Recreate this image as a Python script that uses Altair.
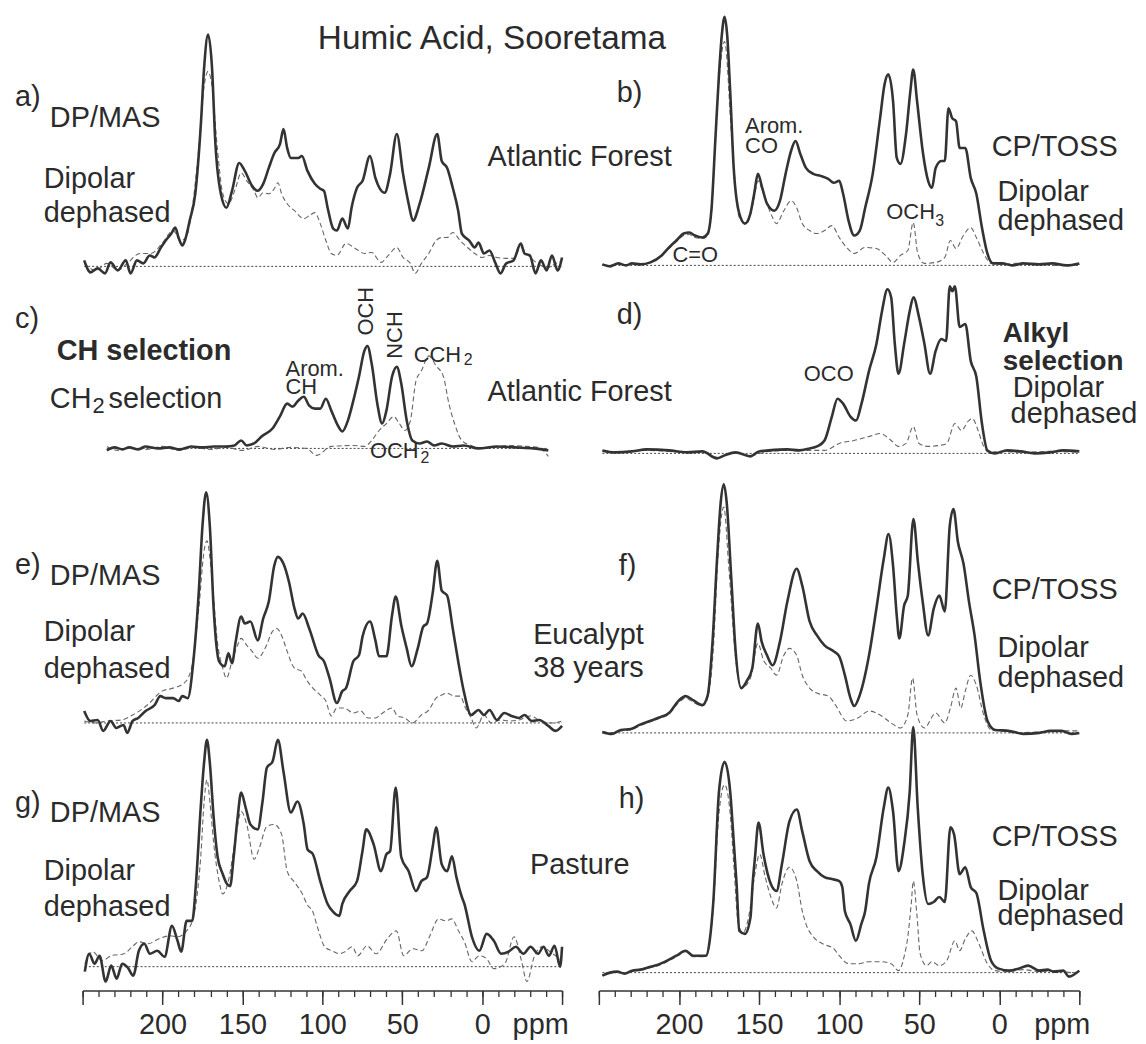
import altair as alt
import pandas as pd

FONT = "Liberation Sans"
TXT = "#2b2b2b"
LINE = "#333333"
DASHC = "#666666"

# ---------------- spectra: (ppm, intensity a.u.) ----------------
a_solid = [(249,6),(245,-6),(240.5,-2),(236,-7),(232.5,4),(228,-4),(223,6),(220,-7),(216,6),(212,3),(208,11),(205,9),(201,19),(198,26),(194.5,33),(192,39),(190,29),(187.5,21),(186,26),(183,46),(179.5,73),(176,143),(174,199),(171.5,233),(169,199),(167,126),(163.5,73),(160,59),(156.5,76),(152,104),(148.5,96),(144,81),(140.5,76),(137,83),(133.5,99),(130,114),(126.5,123),(124.3,138),(122,119),(119.7,109),(115,109),(112.8,111),(109.3,96),(104.7,83),(101.3,78),(99,76),(96.7,59),(93.2,38),(90.9,36),(87.5,48),(84,38),(81.7,59),(78.3,79),(74.8,86),(70.2,111),(66.8,89),(61,74),(57.6,93),(53.4,133),(49.5,93),(46,63),(43.3,46),(39.1,63),(33.4,99),(28.1,133),(25.3,106),(21.9,99),(18.4,79),(15,56),(12.7,33),(8.1,26),(4.6,19),(2.3,24),(-1.1,13),(-4.6,16),(-8.1,4),(-11.5,-7),(-15,3),(-19.6,6),(-24.2,23),(-26.5,13),(-29.9,11),(-33.4,-7),(-36.8,6),(-40.3,-4),(-43.7,11),(-47.2,-4),(-50,9)]
a_dashed = [(249,3),(241.7,-4),(234.8,3),(227.9,-4),(222.1,3),(214.1,13),(207.2,13),(200.3,23),(193.4,36),(188.8,26),(185.3,29),(181.9,53),(177.3,119),(173.8,183),(171.5,196),(169.2,183),(165.7,119),(162.3,73),(158.8,63),(154.2,79),(150.8,94),(147.3,86),(142.7,76),(140.4,69),(137,74),(133.5,73),(130.1,78),(127.8,84),(125.5,73),(122,63),(117.4,56),(111.6,48),(108.2,51),(104.7,54),(101.3,43),(97.8,26),(94.4,13),(90.9,11),(85.2,23),(79.4,18),(73.7,13),(69.1,14),(63.3,4),(58.7,11),(53.4,19),(49.5,9),(44.9,3),(41.9,-7),(38,3),(33.4,13),(28.8,26),(25.3,29),(21.9,29),(18.4,34),(13.8,26),(9.2,19),(4.6,13),(0,9),(-4.6,11),(-9.2,9),(-15,8),(-19.6,8),(-24.2,19),(-27.7,13),(-32.2,6),(-36.8,1),(-41.4,-1),(-46,3),(-50,6)]

b_solid = [(247.8,1),(243,-1),(238,2),(233,0),(229.3,2),(224,1),(217.8,3),(210.8,10),(206.2,18),(201.6,25),(197,32),(193.5,33),(190,30),(185.4,28),(182,32),(179.6,58),(177.3,125),(175,192),(173.2,232),(171.5,250),(169.9,232),(168,175),(165.8,98),(162.3,52),(158.8,42),(155.4,52),(153,72),(150.7,92),(148,78),(145,62),(140.4,55),(136.9,65),(133.4,92),(130,115),(127.2,125),(124.2,112),(120.7,98),(116.1,92),(111.5,90),(106.8,87),(103.3,83),(99.9,85),(97.5,72),(94.1,45),(90.6,30),(87.1,35),(83.7,58),(79,92),(74.4,148),(71.6,182),(69.3,192),(66.3,165),(64,108),(61.7,102),(58.2,132),(55.5,175),(53.7,197),(51.3,165),(47.8,115),(44.4,85),(42,78),(39.7,98),(36.2,105),(34,105),(31.7,158),(29.4,148),(27,145),(24.7,118),(21.2,118),(17.8,88),(14.3,72),(10.8,38),(7.4,12),(3.9,2),(-1.9,2),(-8,0),(-15,2),(-25,1),(-33,2),(-42,0),(-50,2)]
b_dashed = [(247.8,1),(243,0),(238,2),(233,0),(229.3,2),(224,1),(217.8,3),(210.8,10),(206.2,17),(201.6,24),(197,30),(193.5,31),(190,28),(185.4,27),(182,30),(179.6,55),(176.2,158),(171.5,225),(166.9,125),(162.3,48),(157.7,42),(153,68),(150.7,85),(147.2,72),(142.6,52),(139.1,42),(134.5,55),(129.9,65),(126.5,58),(123,42),(118.4,35),(113.8,32),(109.1,35),(104.5,40),(99.9,28),(95.3,18),(90.6,12),(83.7,18),(76.8,17),(71,10),(66.3,3),(61.7,10),(57.1,15),(53.7,43),(50.9,12),(46.7,2),(39.7,3),(34,8),(30.5,25),(27,17),(22.4,30),(17.8,38),(14.3,28),(9.7,12),(5.1,2),(-1.9,1),(-10,2),(-25,1),(-35,0),(-50,1)]

c_solid = [(234.8,-2),(230,1),(225,-1),(220.9,1),(215,-1),(211,2),(202.5,0),(196,1),(189,-1),(182,2),(175,1),(168,2),(160.5,2),(155,3),(150.8,8),(147.3,3),(142.7,5),(138,12),(131.2,20),(126.6,32),(122,45),(118.6,42),(115.1,48),(111.6,52),(108.2,43),(104.7,40),(101.3,40),(97.8,50),(94.4,38),(90.9,25),(87.5,17),(84,28),(80.6,48),(77.1,72),(73.7,98),(71.8,103),(69.1,85),(65.6,45),(62.6,25),(59.9,38),(56.4,72),(53.4,82),(50.6,65),(47.2,28),(43.7,8),(39.1,5),(34.5,7),(30,3),(25.3,5),(18.4,2),(11.5,3),(2.3,0),(-9.2,2),(-20.7,1),(-32.2,0),(-41.4,-2)]
c_dashed = [(234.8,2),(228,-2),(220,1),(210,-1),(200,2),(190,-2),(180,1),(170,-1),(160,1),(150,-2),(140,2),(130,-1),(120,1),(110,0),(103.6,-7),(94.4,2),(80.6,3),(73.7,2),(69.1,8),(64.5,18),(59.9,25),(55.3,32),(51.8,25),(48.3,18),(44.9,28),(41.4,68),(38,78),(33.4,93),(28.8,83),(24.2,72),(20.8,45),(17.3,25),(12.7,8),(6.9,3),(-2.3,0),(-16.1,3),(-27.6,2),(-35,1),(-41.4,-8)]

d_solid = [(247.8,3),(240,1),(229.3,2),(220,4),(206.2,3),(195,1),(185.4,2),(176.2,-5),(171.5,-2),(164.6,1),(155.4,-3),(150,2),(143.8,3),(132.2,4),(125,3),(118.4,5),(113.8,7),(109.1,13),(104.5,37),(101,55),(97.5,50),(92.9,37),(89.4,33),(86,50),(81.3,83),(76.7,110),(73.2,143),(69.8,165),(67.5,157),(65.2,110),(62.9,80),(59.4,110),(55.9,143),(53.6,157),(50.1,137),(46.7,110),(43.2,80),(39.7,103),(36.2,115),(33.2,113),(30.9,168),(29.3,163),(27.7,168),(24.7,127),(21.2,130),(17.8,93),(14.3,77),(10.8,30),(7.4,3),(2.8,0),(-5,3),(-13.4,2),(-22,0),(-31.9,1),(-40,3),(-50,2)]
d_dashed = [(247.8,2),(240,1),(229.3,2),(220,3),(206.2,2),(195,1),(185.4,2),(176.2,-4),(171.5,-2),(164.6,1),(155.4,-2),(143.8,2),(132.2,3),(118.4,3),(109.1,3),(99.9,10),(90.6,13),(81.3,17),(74.4,20),(67.5,13),(62.9,7),(58.2,10),(53.7,27),(50.1,10),(44.4,7),(37.4,8),(32.8,10),(27.7,30),(23.6,23),(19,33),(16.7,35),(13.2,23),(9.7,7),(6.2,1),(0,2),(-13.4,1),(-31.9,2),(-50,1)]

e_solid = [(249,12),(245.2,2),(240.6,3),(237.1,-8),(232.5,2),(229,-5),(224.4,-2),(222.1,-10),(218.7,2),(215.2,5),(210.6,12),(204.9,18),(201.4,27),(198,25),(193.4,25),(189.9,22),(187.6,27),(184.2,25),(180.7,62),(177.3,132),(175,198),(172.7,232),(170.4,198),(168,115),(164.6,62),(161.1,57),(158.8,70),(156.5,60),(154.2,82),(150.8,107),(148.5,100),(145,102),(140.4,83),(137,105),(133.5,122),(130.1,158),(127.8,167),(124.3,160),(120.9,142),(117.4,115),(115.1,105),(112.3,110),(108.2,95),(102.4,68),(99,62),(95.5,45),(90.9,20),(87.5,32),(85.2,35),(80.6,62),(77.1,68),(74.8,87),(70.2,102),(66.8,83),(64.5,67),(59.9,67),(56.4,108),(54.1,127),(50.6,98),(47.2,75),(44.2,57),(40.3,75),(36.8,97),(34.5,100),(31,130),(28.1,163),(25.3,133),(21.9,128),(18.4,95),(15,62),(11.5,32),(6.9,8),(2.3,13),(-1.1,8),(-4.6,13),(-9.2,3),(-13.8,10),(-18.4,7),(-23,5),(-26.5,8),(-31.1,2),(-35.7,3),(-41.4,-3),(-46,-8),(-50,-3)]
e_dashed = [(249,2),(241.7,0),(234.8,2),(225.6,3),(218.7,8),(209.5,18),(200.3,32),(193.4,35),(186.5,40),(181.9,55),(177.3,115),(173.8,175),(172.2,183),(169.2,148),(165.7,82),(162.3,55),(160,45),(156.5,62),(153.1,78),(150.8,85),(147.3,78),(143.9,72),(140.4,65),(135.8,75),(131.2,92),(128.5,95),(125.5,88),(122,72),(117.4,55),(112.8,52),(110.5,45),(105.9,35),(101.3,28),(97.8,22),(94.4,7),(90.9,15),(86.3,15),(80.6,10),(76,12),(71.4,5),(66.8,5),(62.2,10),(56.4,15),(53,7),(48.3,5),(43.7,0),(38,8),(33.4,13),(28.8,25),(25.3,28),(21.9,30),(17.3,27),(13.8,27),(10.4,15),(6.9,5),(3.7,-5),(-1.1,8),(-5.7,0),(-11.5,3),(-17.2,2),(-23,3),(-29.9,7),(-36.8,2),(-43.7,0),(-50,2)]

f_solid = [(247.8,1),(242,-1),(236.3,3),(230,4),(224.7,8),(213.2,15),(206.2,20),(200.4,32),(195.8,37),(191.2,33),(185.4,28),(182,38),(179,92),(176.2,175),(173.9,232),(172,250),(170.2,232),(167.4,158),(164.6,82),(161.1,45),(157.7,52),(154.2,65),(150.7,110),(148.4,92),(145,78),(141.5,68),(136.9,92),(132.3,132),(126.5,165),(123,148),(118.4,112),(113.8,98),(109.1,88),(103.4,82),(99.9,77),(96.4,58),(92.9,35),(90.6,27),(87.1,38),(81.3,78),(76.7,125),(72.1,175),(69.1,200),(66.3,168),(64,118),(62.4,95),(59.4,128),(57.1,138),(53.6,215),(50.8,172),(47.8,132),(44.4,98),(40.9,125),(37.4,138),(34,122),(30.9,208),(28.6,225),(25.8,192),(22.3,170),(18.9,132),(15.4,98),(11.9,52),(7.3,12),(2.6,3),(-6.5,2),(-15,-1),(-25,0),(-32,2),(-38.9,2),(-45,-1),(-50,0)]
f_dashed = [(247.8,1),(242,0),(236.3,2),(230,3),(224.7,7),(213.2,14),(206.2,19),(200.4,30),(195.8,35),(191.2,31),(185.4,27),(182,36),(178.5,85),(175.7,175),(172,227),(168.8,165),(164.6,75),(161.1,45),(155.4,55),(150.7,90),(147.2,73),(142.6,65),(139.1,58),(134.5,78),(131,85),(126.5,78),(123,58),(118.4,45),(113.8,40),(106.8,37),(102.2,28),(95.3,12),(88.3,15),(81.3,22),(74.4,18),(67.5,10),(61.7,5),(57.1,18),(54.1,55),(51.3,18),(46.7,5),(39.7,20),(34,10),(30.5,25),(27,45),(24,25),(21.2,42),(17.8,58),(14.3,48),(9.7,18),(5.1,3),(-1.9,2),(-10,0),(-25,1),(-38,2),(-50,2)]

g_solid = [(248.6,-5),(245.9,13),(242.5,3),(239.4,11),(235.6,-15),(232.1,1),(228.7,-12),(225.2,3),(221.7,-1),(218.3,-9),(214.8,16),(211.4,23),(207.9,13),(203.3,16),(198.7,10),(194.1,41),(190.6,26),(188.3,15),(184.9,46),(181.4,46),(179.1,83),(176.1,160),(174,205),(172.2,228),(170.4,205),(168,150),(165.5,110),(162.3,93),(160,84),(157.7,81),(155.5,110),(153,150),(150.8,175),(148,160),(145,143),(140.4,138),(137.5,165),(134.7,200),(131.2,206),(127.8,228),(124.3,196),(119.7,155),(115.6,166),(111.6,143),(109.3,118),(105.9,113),(101.3,86),(96.7,63),(93.2,55),(89.4,51),(87.5,63),(82.9,76),(78.3,86),(75,115),(72.5,138),(67.9,123),(63.3,96),(59.9,113),(57.6,116),(54.1,180),(50.6,110),(46,96),(41.4,76),(38,86),(34.5,90),(31,120),(28.8,140),(25.3,103),(21.9,96),(18.9,111),(16.1,90),(12.7,70),(11.1,63),(6.4,30),(1.8,16),(-2.8,33),(-7.3,26),(-11.9,13),(-16.5,15),(-21.1,20),(-25.8,13),(-30.3,20),(-35,13),(-38.4,20),(-41.8,11),(-45.3,21),(-48.8,0),(-50,20)]
g_dashed = [(248.6,3),(243.6,15),(237.9,6),(232.1,11),(224.1,13),(218.3,21),(214.8,25),(209.1,23),(202.2,28),(195.2,31),(190.6,30),(184.9,36),(181.4,46),(178.5,70),(176.1,110),(174,165),(172.2,188),(170.3,165),(168.1,126),(164.6,86),(162.3,73),(158.8,86),(154.2,130),(150.8,156),(147.3,143),(142.7,108),(139.3,120),(134.7,141),(130.1,143),(125.5,133),(122,96),(117.4,85),(112.8,74),(109.3,62),(105.9,55),(103.1,40),(98.5,20),(93.9,16),(89.3,13),(85.9,15),(81.3,20),(77.8,11),(72.1,21),(66.3,13),(59.4,28),(53.7,36),(49.1,11),(43.3,18),(37.6,16),(33,30),(27.2,48),(22.6,46),(19.1,48),(14.5,35),(11.1,25),(6.4,5),(1.8,11),(-2.8,8),(-7.3,-2),(-14.2,3),(-20,30),(-24.6,6),(-28,-15),(-32.6,10),(-37.2,20),(-44.1,13),(-50,6)]

h_solid = [(247.8,-3),(243,0),(238.6,1),(234,-1),(229.3,2),(224,3),(217.8,6),(213,8),(208.6,11),(201.6,17),(195.8,22),(191.2,17),(183.1,17),(180.8,32),(178.5,72),(175,182),(171.5,212),(168,182),(165.8,132),(164,89),(162.3,42),(158.8,39),(155.3,56),(154,89),(152.5,116),(150.3,151),(147.2,119),(142.6,89),(139.1,82),(135.7,109),(131,152),(126.4,164),(123,142),(118.4,112),(113.8,102),(109.1,96),(104.5,94),(99.9,92),(98,86),(96.4,62),(93,49),(89.5,32),(86.1,49),(83.7,62),(81.4,89),(76.7,116),(72.1,166),(69.3,186),(66.3,162),(62.9,102),(59.4,129),(55.9,182),(53.7,247),(50.9,166),(47.8,99),(44.4,69),(40.9,71),(37.4,76),(34,71),(30.5,146),(28.2,139),(24.7,99),(21.2,106),(17.8,86),(14.3,80),(9.7,42),(5.1,12),(0.4,4),(-6.5,2),(-12,4),(-18,7),(-25,2),(-30,3),(-34.2,1),(-40,2),(-43.5,-4),(-50,2)]
h_dashed = [(247.8,-3),(243,0),(238.6,1),(234,-1),(229.3,2),(224,3),(217.8,5),(213,7),(208.6,10),(201.6,16),(195.8,21),(191.2,16),(183.1,16),(180.8,30),(178.5,68),(175,160),(171.5,189),(168,160),(165.8,110),(163,50),(160,40),(156,60),(152.5,100),(149.6,119),(146.1,96),(142.6,76),(139.1,65),(135.7,89),(131,106),(126.4,92),(123,62),(120.7,49),(116.1,36),(110.3,29),(103.3,24),(99.9,17),(94.1,9),(88.3,9),(81.4,11),(74.4,11),(67.5,9),(62.9,2),(59.4,16),(57.1,36),(54.8,72),(53.7,92),(51.3,56),(49.4,19),(45.3,7),(42,11),(37.4,7),(32.8,12),(27.7,32),(24.7,22),(21.2,34),(17.1,42),(13.2,31),(7.4,9),(2.8,2),(-5,1),(-15,3),(-25,1),(-35,2),(-45,0),(-50,1)]

# panel -> (column, vertical offset of its zero line, solid, dashed)
PANELS = {
    "a": ("left", 728, a_solid, a_dashed),
    "b": ("right", 729, b_solid, b_dashed),
    "c": ("left", 545, c_solid, c_dashed),
    "d": ("right", 540, d_solid, d_dashed),
    "e": ("left", 269, e_solid, e_dashed),
    "f": ("right", 259, f_solid, f_dashed),
    "g": ("left", 24, g_solid, g_dashed),
    "h": ("right", 18, h_solid, h_dashed),
}

# ---------------- text annotations (ppm, vertical position) ----------------
LEFT_LABELS = [("a)", 292.3, 898), ("DP/MAS", 270.5, 877), ("Dipolar", 274.3, 816), ("dephased", 274.3, 782),
               ("Atlantic Forest", -3.3, 838), ("c)", 292.3, 675), ("CH", 270.5, 595), ("selection", 233.8, 595),
               ("Atlantic Forest", -3.3, 602), ("e)", 292.3, 428), ("DP/MAS", 270.5, 417), ("Dipolar", 274.3, 360),
               ("dephased", 274.3, 323), ("Eucalypt", -31.9, 357), ("38 years", -31.9, 324), ("g)", 292.3, 188),
               ("DP/MAS", 270.5, 178), ("Dipolar", 274.3, 120), ("dephased", 274.3, 84), ("Pasture", -30, 126)]
LEFT_BOLD = [("CH selection", 266.2, 643)]
LEFT_SMALL = [("Arom.", 123, 625), ("CH", 123, 607), ("OCH", 70.2, 542), ("CCH", 42.8, 639)]
LEFT_SUB = [("2", 38.5, 535), ("2", 11.5, 634)]
LEFT_SUB_BIG = [("2", 243.8, 588)]
LEFT_ROT = [("OCH", 72.7, 683), ("NCH", 54.3, 659)]
TITLE = [("Humic Acid, Sooretama", -6.1, 957)]

RIGHT_LABELS = [("b)", 238.8, 902), ("CP/TOSS", 4.7, 848), ("Dipolar", 1.1, 803), ("dephased", 1.1, 774),
                ("d)", 238.8, 679), ("Dipolar", -8.4, 606), ("dephased", -7.1, 580), ("f)", 237.6, 427),
                ("CP/TOSS", 4.7, 403), ("Dipolar", 1.1, 344), ("dephased", 1.1, 314), ("h)", 237.6, 193),
                ("CP/TOSS", 4.7, 154), ("Dipolar", 1.1, 100), ("dephased", 1.1, 75)]
RIGHT_BOLD = [("Alkyl", -2.2, 660), ("selection", -2.2, 632)]
RIGHT_SMALL = [("Arom.", 158.7, 869), ("CO", 158.7, 849), ("OCH", 70.5, 783), ("C=O", 204, 739), ("OCO", 122, 620)]
RIGHT_SUB = [("3", 40.0, 774)]

PPM_LEFT = [("ppm", -36.6, -35)]
PPM_RIGHT = [("ppm", -39.4, -35)]

MAJOR = [250, 200, 150, 100, 50, 0, -50]
MINOR = list(range(250, -51, -10))

# ---------------- build tables ----------------
rows, base_rows = [], []
for key, (col, off, sol, dash) in PANELS.items():
    for series, pts in (("solid", sol), ("dashed", dash)):
        for i, (p, v) in enumerate(pts):
            rows.append(dict(panel=key, col=col, series=series, idx=i, ppm=p, intensity=v, y=v + off))
    ppms = [p for p, _ in sol]
    base_rows.append(dict(panel=key, col=col, idx=0, ppm=max(ppms), y=off))
    base_rows.append(dict(panel=key, col=col, idx=1, ppm=min(ppms), y=off))
df = pd.DataFrame(rows)
base = pd.DataFrame(base_rows)

H = 979
YS = alt.Scale(domain=[0, H], nice=False, zero=False)
XL = alt.Scale(domain=[250, -50], range=[75, 557], nice=False, zero=False)
XR = alt.Scale(domain=[250, -50], range=[594, 1077], nice=False, zero=False)


def xenc(xs, axis=None):
    return alt.X("ppm:Q", scale=xs, axis=axis, title=None)


def yenc(field):
    return alt.Y(field, scale=YS, axis=None, title=None)


def spectra_layers(col, xs):
    d = df[df["col"] == col]
    solid = alt.Chart(d[d["series"] == "solid"]).mark_line(
        color=LINE, strokeWidth=2.6, interpolate="monotone"
    ).encode(x=xenc(xs), y=yenc("y:Q"), detail="panel:N", order="idx:Q")
    dashed = alt.Chart(d[d["series"] == "dashed"]).mark_line(
        color=DASHC, strokeWidth=1.1, strokeDash=[5, 3], interpolate="monotone"
    ).encode(x=xenc(xs), y=yenc("y:Q"), detail="panel:N", order="idx:Q")
    bl = alt.Chart(base[base["col"] == col]).mark_line(
        color="#444444", strokeWidth=1, strokeDash=[2, 2]
    ).encode(x=xenc(xs), y=yenc("y:Q"), detail="panel:N", order="idx:Q")
    return [bl, dashed, solid]


def text_layer(items, xs, size, weight="normal", angle=0, align="left"):
    t = pd.DataFrame(items, columns=["label", "ppm", "v"])
    return alt.Chart(t).mark_text(
        align=align, baseline="middle", font=FONT, fontSize=size, fontWeight=weight,
        color=TXT, angle=angle
    ).encode(x=xenc(xs), y=yenc("v:Q"), text="label:N")


def axis_layers(xs):
    t = pd.DataFrame({"ppm": [250, -50], "v": [0, 0]})
    major = alt.Axis(values=MAJOR, orient="bottom", tickSize=14, tickWidth=1.5, tickColor=LINE,
                     domainColor=LINE, domainWidth=1.5, labelFont=FONT, labelFontSize=29,
                     labelColor=TXT, labelPadding=6, labelOverlap=False, labelFlush=False,
                     labelExpr="(datum.value >= 0 && datum.value <= 200) ? datum.label : ''",
                     grid=False)
    minor = alt.Axis(values=MINOR, orient="bottom", tickSize=6, tickWidth=1.3, tickColor=LINE,
                     domain=False, labels=False, grid=False)
    l1 = alt.Chart(t).mark_point(opacity=0).encode(x=xenc(xs, major), y=yenc("v:Q"))
    l2 = alt.Chart(t).mark_point(opacity=0).encode(x=xenc(xs, minor), y=yenc("v:Q"))
    return [l1, l2]


layers = []
layers += spectra_layers("left", XL)
layers += spectra_layers("right", XR)
layers += [
    text_layer(TITLE, XL, 33.5, align="center"),
    text_layer(LEFT_LABELS, XL, 29),
    text_layer(LEFT_BOLD, XL, 29, weight="bold"),
    text_layer(LEFT_SMALL, XL, 22),
    text_layer(LEFT_SUB, XL, 16),
    text_layer(LEFT_SUB_BIG, XL, 22),
    text_layer(LEFT_ROT, XL, 22, angle=270, align="center"),
    text_layer(PPM_LEFT, XL, 29, align="center"),
    text_layer(RIGHT_LABELS, XR, 29),
    text_layer(RIGHT_BOLD, XR, 28, weight="bold"),
    text_layer(RIGHT_SMALL, XR, 22),
    text_layer(RIGHT_SUB, XR, 16),
    text_layer(PPM_RIGHT, XR, 29, align="center"),
]
layers += axis_layers(XL)
layers += axis_layers(XR)

chart = alt.layer(*layers).resolve_scale(x="independent", y="shared").properties(
    width=1130, height=H, padding=0
).configure_view(stroke=None)

chart.save("out.html", embed_options={"renderer": "svg", "actions": False})
